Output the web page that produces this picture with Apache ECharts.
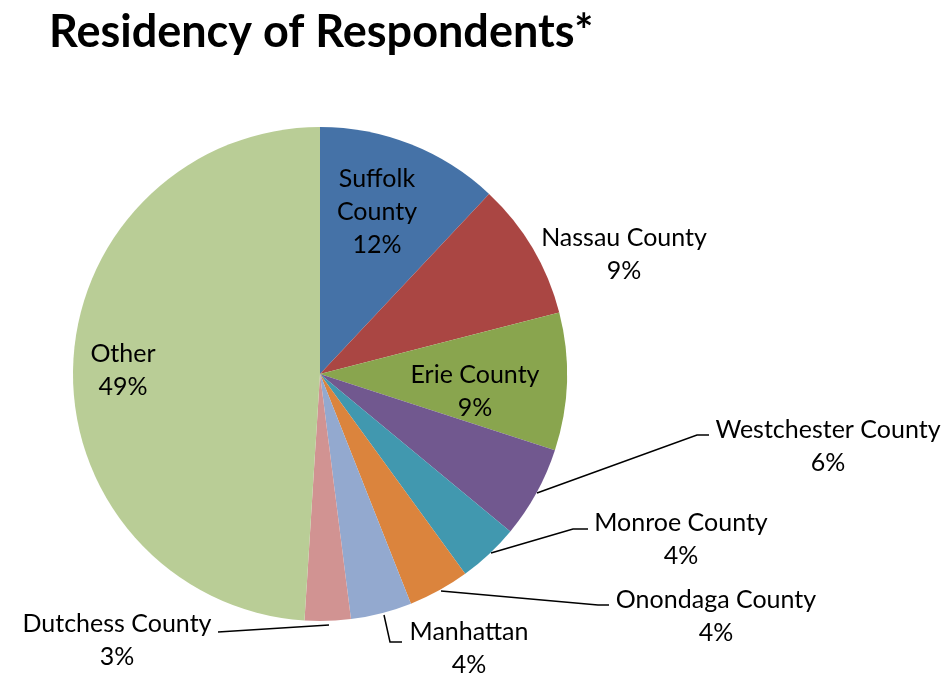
<!DOCTYPE html>
<html>
<head>
<meta charset="utf-8">
<script src="https://cdn.jsdelivr.net/npm/echarts@6/dist/echarts.min.js"></script>
<style>
  html, body { margin: 0; padding: 0; background: #ffffff; }
  #chart { width: 951px; height: 675px; }
</style>
</head>
<body>
<div id="chart"></div>
<script>
// Residency of survey respondents, share by county (percent)
const regions = ['Suffolk County', 'Nassau County', 'Erie County', 'Westchester County',
                 'Monroe County', 'Onondaga County', 'Manhattan', 'Dutchess County', 'Other'];
const shares = [12, 9, 9, 6, 4, 4, 4, 3, 49];
const sliceColors = ['#4572A7', '#AA4643', '#89A54E', '#71588F', '#4198AF',
                     '#DB843D', '#93A9CF', '#D19392', '#B9CD96'];

// Where each label sits, and leader lines for the ones outside the pie
const labelPlacement = {
  'Suffolk County':     { x: 377, y: 212, text: 'Suffolk\nCounty' },
  'Nassau County':      { x: 624, y: 254 },
  'Erie County':        { x: 475, y: 391 },
  'Westchester County': { x: 828, y: 446, line: [[537, 493], [697, 435], [709, 435]] },
  'Monroe County':      { x: 681, y: 539, line: [[491, 553], [573, 529], [588, 529]] },
  'Onondaga County':    { x: 716, y: 616, line: [[441, 591], [598, 605], [609, 605]] },
  'Manhattan':          { x: 469, y: 648, line: [[384, 615], [390, 642], [402, 642]] },
  'Dutchess County':    { x: 117, y: 640, line: [[329, 625], [218, 632]] },
  'Other':              { x: 123, y: 370 }
};

const chart = echarts.init(document.getElementById('chart'), null, { renderer: 'canvas' });

const seriesData = regions.map((name, i) => ({
  name: name,
  value: shares[i],
  itemStyle: { color: sliceColors[i] },
  labelLine: { show: !!labelPlacement[name].line }
}));

chart.setOption({
  animation: false,
  backgroundColor: '#ffffff',
  title: {
    text: 'Residency of Respondents*',
    left: 44,
    top: 5,
    textStyle: {
      fontFamily: 'Lato',
      fontWeight: 'bold',
      fontSize: 45,
      color: '#000000'
    }
  },
  series: [{
    type: 'pie',
    center: [320, 374],
    radius: 247,
    startAngle: 90,
    clockwise: true,
    avoidLabelOverlap: false,
    itemStyle: { borderWidth: 0 },
    label: {
      show: true,
      position: 'outside',
      fontFamily: 'Lato',
      fontSize: 25,
      lineHeight: 33,
      color: '#000000',
      align: 'center',
      formatter: function (p) {
        const t = labelPlacement[p.name].text || p.name;
        return t + '\n' + p.value + '%';
      }
    },
    labelLine: {
      show: true,
      lineStyle: { color: '#000000', width: 1.5 }
    },
    labelLayout: function (params) {
      const place = labelPlacement[regions[params.dataIndex]];
      const out = {
        x: place.x,
        y: place.y,
        align: 'center',
        verticalAlign: 'middle'
      };
      if (place.line) out.labelLinePoints = place.line;
      return out;
    },
    data: seriesData
  }]
});
</script>
</body>
</html>
